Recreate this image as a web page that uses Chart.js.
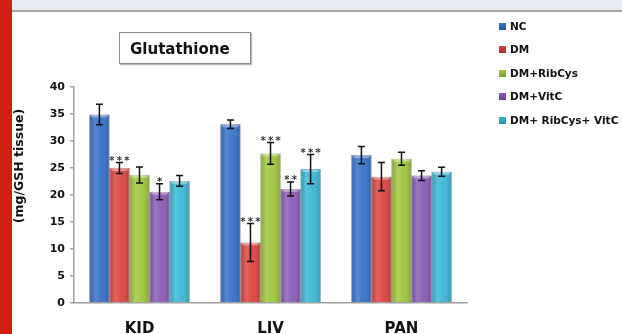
<!DOCTYPE html>
<html>
<head>
<meta charset="utf-8">
<script src="https://cdn.jsdelivr.net/npm/chart.js@4.4.1/dist/chart.umd.min.js"></script>
<style>
  html, body { margin: 0; padding: 0; background: #fff; }
  #page { position: relative; width: 622px; height: 334px; overflow: hidden; background: #fff; }
  #topstrip { position: absolute; left: 12px; top: 0; width: 610px; height: 10px; background: #e5ebf1; border-bottom: 2px solid #a8a8a8; }
  #redbar { position: absolute; left: 0; top: 0; width: 12px; height: 334px; background: #d01f10; }
  #titlebox { position: absolute; left: 119px; top: 32px; width: 132px; height: 32px; border: 1px solid #8a8a8a;
    box-shadow: 1px 1px 1px #bbb; font: bold 15px "DejaVu Sans"; color: #111; line-height: 32px; padding-left: 10px; box-sizing: border-box; }
  #legend { position: absolute; left: 499px; top: 19px; font: bold 10.5px "DejaVu Sans"; color: #111; }
  .item { height: 23.4px; line-height: 15px; white-space: nowrap; }
  .sw { display: inline-block; width: 7px; height: 7px; margin-right: 4px; }
  canvas { position: absolute; left: 0; top: 0; }
</style>
</head>
<body>
<div id="page">
  <div id="topstrip"></div>
  <div id="redbar"></div>
  <canvas id="chart" width="622" height="334"></canvas>
  <div id="titlebox">Glutathione</div>
  <div id="legend"></div>
</div>
<script>
const categories = ['KID', 'LIV', 'PAN'];
const seriesNames = ['NC', 'DM', 'DM+RibCys', 'DM+VitC', 'DM+ RibCys+ VitC'];
const seriesColors = ['#3671c9', '#db4642', '#a0c63e', '#8b5bb7', '#3bb8d5'];
const seriesEdges = ['#2652a0', '#b02b2a', '#7a9e2a', '#693f95', '#2790ae'];

const ncValues = [34.9, 33.1, 27.4];
const dmValues = [25.0, 11.2, 23.4];
const ribValues = [23.7, 27.7, 26.7];
const vitcValues = [20.6, 21.1, 23.6];
const comboValues = [22.6, 24.8, 24.3];

const ncErr = [1.9, 0.8, 1.6];
const dmErr = [1.0, 3.5, 2.6];
const ribErr = [1.5, 2.0, 1.2];
const vitcErr = [1.5, 1.3, 0.9];
const comboErr = [1.0, 2.7, 0.85];

const ncStars = ['', '', ''];
const dmStars = ['***', '***', ''];
const ribStars = ['', '***', ''];
const vitcStars = ['*', '**', ''];
const comboStars = ['', '***', ''];

const yTicks = [0, 5, 10, 15, 20, 25, 30, 35, 40];
const yTitle = '(mg/GSH tissue)';

const allValues = [ncValues, dmValues, ribValues, vitcValues, comboValues];
const allErr = [ncErr, dmErr, ribErr, vitcErr, comboErr];
const allStars = [ncStars, dmStars, ribStars, vitcStars, comboStars];

// legend
const legend = document.getElementById('legend');
seriesNames.forEach((name, i) => {
  const row = document.createElement('div');
  row.className = 'item';
  row.innerHTML = '<span class="sw" style="background:linear-gradient(' + seriesColors[i] + ',' + seriesEdges[i] + ')"></span>' + name;
  legend.appendChild(row);
});

// bar shading, error bars, stars, y title
const extras = {
  id: 'extras',
  afterDatasetsDraw(chart) {
    const ctx = chart.ctx;
    const y = chart.scales.y;
    chart.data.datasets.forEach((ds, di) => {
      const meta = chart.getDatasetMeta(di);
      meta.data.forEach((bar) => {
        const w = bar.width, left = bar.x - w / 2, top = bar.y, h = bar.base - bar.y;
        const g = ctx.createLinearGradient(left, 0, left + w, 0);
        g.addColorStop(0, 'rgba(0,0,0,0.18)');
        g.addColorStop(0.3, 'rgba(255,255,255,0.16)');
        g.addColorStop(0.6, 'rgba(255,255,255,0.04)');
        g.addColorStop(1, 'rgba(0,0,0,0.22)');
        ctx.save();
        ctx.fillStyle = g;
        ctx.fillRect(left, top, w, h);
        ctx.fillStyle = 'rgba(255,255,255,0.35)';
        ctx.beginPath();
        ctx.moveTo(left, top);
        ctx.lineTo(left + w, top);
        ctx.lineTo(left + w - 3, top + 3);
        ctx.lineTo(left + 3, top + 3);
        ctx.closePath();
        ctx.fill();
        ctx.restore();
      });
    });
    chart.data.datasets.forEach((ds, di) => {
      const meta = chart.getDatasetMeta(di);
      meta.data.forEach((bar, i) => {
        const v = allValues[di][i], e = allErr[di][i];
        const yt = y.getPixelForValue(v + e), yb = y.getPixelForValue(v - e);
        ctx.save();
        ctx.strokeStyle = '#111';
        ctx.lineWidth = 1.5;
        ctx.beginPath();
        ctx.moveTo(bar.x, yt); ctx.lineTo(bar.x, yb);
        ctx.moveTo(bar.x - 3.5, yt); ctx.lineTo(bar.x + 3.5, yt);
        ctx.moveTo(bar.x - 3.5, yb); ctx.lineTo(bar.x + 3.5, yb);
        ctx.stroke();
        const s = allStars[di][i];
        if (s) {
          ctx.fillStyle = '#333';
          ctx.font = 'bold 10px "DejaVu Sans"';
          ctx.textAlign = 'center';
          ctx.textBaseline = 'alphabetic';
          for (let k = 0; k < s.length; k++) {
            ctx.fillText('*', bar.x + (k - (s.length - 1) / 2) * 7.5, yt + 1);
          }
        }
        ctx.restore();
      });
    });
    ctx.save();
    ctx.translate(20, 166);
    ctx.rotate(-Math.PI / 2);
    ctx.font = 'bold 12.5px "DejaVu Sans"';
    ctx.fillStyle = '#111';
    ctx.textAlign = 'center';
    ctx.textBaseline = 'middle';
    ctx.fillText(yTitle, 0, 0);
    ctx.restore();
  }
};

new Chart(document.getElementById('chart'), {
  type: 'bar',
  data: {
    labels: categories,
    datasets: seriesNames.map((name, i) => ({
      label: name,
      data: allValues[i],
      backgroundColor: seriesColors[i],
      borderColor: seriesEdges[i],
      borderWidth: 0.8,
      barPercentage: 1,
      categoryPercentage: 0.765
    }))
  },
  options: {
    responsive: false,
    animation: false,
    layout: { padding: { top: 87, right: 155, bottom: 0, left: 0 } },
    plugins: { legend: { display: false }, tooltip: { enabled: false } },
    scales: {
      x: {
        afterFit: (s) => { s.height = 31; },
        grid: { display: false, drawTicks: false },
        border: { color: '#a0a0a0', width: 1.5 },
        ticks: { padding: 17, color: '#111', font: { family: 'DejaVu Sans', size: 15, weight: 'bold' } }
      },
      y: {
        min: 0, max: 40,
        afterFit: (s) => { s.width = 74; },
        afterBuildTicks: (s) => { s.ticks = yTicks.map(v => ({ value: v })); },
        grid: { drawOnChartArea: false, tickLength: 4, color: '#a0a0a0', lineWidth: 1.5 },
        border: { color: '#a0a0a0', width: 1.5 },
        ticks: { padding: 5, color: '#111', font: { family: 'DejaVu Sans', size: 11, weight: 'bold' } }
      }
    }
  },
  plugins: [extras]
});
</script>
</body>
</html>
